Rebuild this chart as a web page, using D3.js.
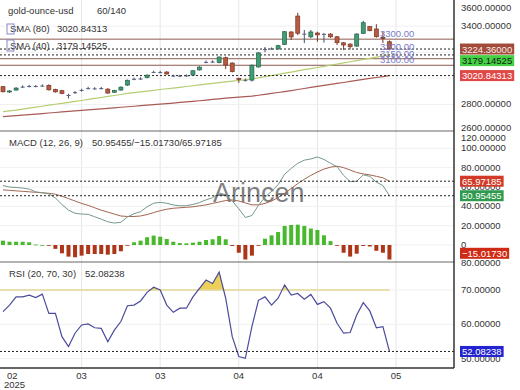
<!DOCTYPE html>
<html>
<head>
<meta charset="utf-8">
<script src="https://cdn.jsdelivr.net/npm/d3@7"></script>
<style>
  body { margin: 0; background: #fff; }
  svg { display: block; }
  text { font-family: "Liberation Sans", Arial, sans-serif; }
</style>
</head>
<body>
<svg id="chart" width="520" height="390"></svg>
<script>
// candles (daily, gold-ounce-usd)
const opens = [2936, 2895, 2910, 2933, 2938, 2941, 2940, 2946, 2914, 2905,
  2868, 2890, 2908, 2922, 2923, 2922, 2917, 2893, 2910, 2948,
  2993, 2995, 3005, 3046, 3048, 3048, 3018, 3020, 3019, 3025,
  3064, 3123, 3125, 3120, 3158, 3117, 2998, 2984, 2986, 3087,
  3220, 3225, 3225, 3260, 3355, 3477, 3342, 3318, 3347, 3338,
  3339, 3318, 3272, 3262, 3247, 3344, 3396, 3378, 3312, 3280]
const highs = [2940, 2908, 2932, 2946, 2950, 2949, 2954, 2954, 2920, 2912,
  2882, 2902, 2920, 2935, 2932, 2934, 2924, 2912, 2938, 2990,
  3005, 3008, 3030, 3058, 3057, 3055, 3028, 3027, 3030, 3062,
  3092, 3136, 3138, 3168, 3167, 3122, 3005, 2998, 3106, 3200,
  3240, 3236, 3256, 3362, 3360, 3502, 3370, 3370, 3357, 3347,
  3345, 3325, 3278, 3268, 3345, 3441, 3400, 3415, 3355, 3290]
const lows = [2892, 2888, 2905, 2926, 2930, 2931, 2934, 2906, 2890, 2878,
  2845, 2880, 2898, 2915, 2912, 2914, 2882, 2888, 2905, 2942,
  2985, 2988, 3000, 3040, 3038, 3028, 3010, 3010, 3012, 3020,
  3060, 3115, 3118, 3115, 3071, 3045, 2965, 2975, 2975, 3082,
  3200, 3218, 3220, 3255, 3293, 3331, 3270, 3308, 3280, 3273,
  3310, 3255, 3216, 3222, 3240, 3340, 3360, 3312, 3270, 3215]
const closes = [2897, 2903, 2925, 2936, 2941, 2939, 2944, 2912, 2896, 2884,
  2872, 2894, 2911, 2925, 2921, 2925, 2887, 2906, 2932, 2985,
  2996, 2998, 3024, 3049, 3046, 3033, 3021, 3018, 3022, 3058,
  3086, 3126, 3128, 3163, 3102, 3051, 2990, 2988, 3100, 3195,
  3224, 3228, 3250, 3357, 3317, 3345, 3338, 3355, 3333, 3341,
  3318, 3273, 3255, 3242, 3339, 3426, 3365, 3319, 3305, 3224.36]

const sma40 = [2745, 2750, 2756, 2764, 2771, 2779, 2786, 2794, 2801, 2808,
  2815, 2823, 2830, 2838, 2846, 2853, 2861, 2868, 2876, 2884,
  2890, 2896, 2902, 2908, 2914, 2920, 2925, 2931, 2937, 2943,
  2949, 2955, 2961, 2967, 2973, 2978, 2983, 2989, 2995, 3004,
  3013, 3021, 3030, 3039, 3048, 3057, 3066, 3074, 3083, 3092,
  3101, 3109, 3118, 3127, 3136, 3145, 3153, 3162, 3171, 3179.14525]
const sma80 = [2706, 2710, 2714, 2718, 2722, 2726, 2730, 2734, 2738, 2742,
  2746, 2750, 2754, 2758, 2762, 2766, 2770, 2774, 2778, 2782,
  2786, 2790, 2794, 2798, 2802, 2806, 2810, 2815, 2819, 2823,
  2828, 2833, 2838, 2843, 2848, 2852, 2856, 2860, 2864, 2870,
  2877, 2884, 2891, 2898, 2906, 2914, 2922, 2930, 2938, 2946,
  2953, 2961, 2968, 2976, 2984, 2992, 2999, 3006, 3013, 3020.84313]

const levelLines = [3300, 3150, 3100]
const levelLabels = [3300, 3200, 3150, 3100]

// MACD (12, 26, 9)
const macd = [61.5, 59.9, 59.4, 58.9, 57.8, 55, 54, 52.9, 48.5, 41.9,
  36, 32.8, 32, 31.7, 29.2, 26.7, 24, 22.7, 23.5, 29,
  32.3, 34.5, 39.5, 43.2, 44.1, 43.2, 41.4, 40.5, 40.7, 41.9,
  43.9, 46.7, 48.9, 53.8, 51.9, 45.5, 37.5, 28.5, 30.5, 41,
  49.5, 55.5, 62.4, 73.2, 79.2, 84.5, 87.7, 89, 91, 88.5,
  84.5, 81, 72, 65.5, 66, 72.5, 71, 65, 61.5, 50.95455]
const signal = [57, 56.5, 56, 55.5, 55, 54.5, 54, 53.5, 52.5, 50.5,
  48, 45.5, 43, 41, 38.5, 36, 34, 32, 30, 29.5,
  29.5, 30, 31.5, 33.5, 35.5, 37, 38, 38.5, 39, 39.5,
  40.5, 41.5, 43, 44.5, 46, 46.5, 45.5, 43.5, 41.5, 41.5,
  43, 45.5, 49, 53.5, 58.5, 63.5, 68, 72, 75.5, 78.5,
  80.5, 81.5, 80, 77.5, 75, 73.5, 72.5, 71, 69.5, 65.97185]
const hist = [4.5, 3.4, 3.4, 3.4, 2.8, 0.5, 0, -0.6, -4, -8.6,
  -12, -12.7, -11, -9.3, -9.3, -9.3, -10, -9.3, -6.5, -0.5,
  2.8, 4.5, 8, 9.7, 8.6, 6.2, 3.4, 2, 1.7, 2.4,
  3.4, 5.2, 5.9, 9.3, 5.9, -1, -8, -15, -11, -0.5,
  6.5, 10, 13.4, 19.7, 20.7, 21, 19.7, 17, 15.5, 10,
  4, -0.5, -8, -12, -9, -1, -1.5, -6, -8, -15.0173]

// RSI (20, 70, 30)
const rsi = [63.7, 65.6, 68, 68, 68.5, 67.8, 68.8, 63.2, 63.2, 56.4,
  53.5, 57.4, 59.8, 60.1, 59, 58.8, 54.9, 58.3, 60.8, 65.4,
  65.6, 66.8, 69.3, 70.8, 70, 65.6, 63.5, 64.7, 64.7, 68,
  70.5, 72.9, 71.9, 75.2, 67.6, 56.4, 50.6, 50.1, 59.3, 67,
  68, 65.6, 67.6, 71.5, 68.5, 69, 67.3, 68.7, 65.8, 66.6,
  64.7, 60.3, 57.4, 57.6, 62.7, 66.3, 63.9, 59, 59.3, 52.08238]

const xTicks = [0, 12, 24, 36, 48, 60]
const xTickLabels = ['02', '03', '03', '04', '04', '05']
const priceTicks = [2600, 2800, 3000, 3200, 3400, 3600]
const priceLabelTicks = [2600, 2800, 3400, 3600]
const macdTicks = [0, 20, 40, 60, 80, 100, 120]
const rsiTicks = [50, 60, 70, 80]

const svg = d3.select('#chart')
const fmt5 = d3.format('.5f')
const axisX = 454
const panels = { price: [0, 131], macd: [131, 262], rsi: [262, 368] }

const x = d3.scaleLinear().domain([0, 60]).range([3, 396])
const yPrice = d3.scaleLinear().domain([2600, 3600]).range([130.5, 0])
const yMacd = d3.scaleLinear().domain([0, 100]).range([245, 148.3])
const yRsi = d3.scaleLinear().domain([50, 70]).range([358.6, 290])
const idx = d3.range(closes.length)

// grid
svg.append('g')
  .selectAll('line')
  .data(xTicks.slice(1))
  .join('line')
  .attr('x1', (d) => x(d)).attr('x2', (d) => x(d))
  .attr('y1', 0).attr('y2', panels.rsi[1])
  .attr('stroke', '#e6e6e6')

const hGrid = (scale, values, panel) => {
  svg.append('g')
    .selectAll('line')
    .data(values.filter((v) => scale(v) > panel[0] + 1 && scale(v) < panel[1] - 1))
    .join('line')
    .attr('x1', 0).attr('x2', axisX)
    .attr('y1', (d) => scale(d)).attr('y2', (d) => scale(d))
    .attr('stroke', '#f0f0f0')
}
hGrid(yPrice, priceTicks, panels.price)
hGrid(yMacd, macdTicks, panels.macd)
hGrid(yRsi, rsiTicks, panels.rsi)

// watermark
svg.append('text')
  .attr('x', 213).attr('y', 202)
  .style('font-size', '27px')
  .attr('fill', '#555')
  .attr('opacity', 0.75)
  .text('Arincen')

// ---- price panel ----
svg.append('g')
  .selectAll('line')
  .data(levelLines)
  .join('line')
  .attr('x1', 0).attr('x2', axisX)
  .attr('y1', (d) => yPrice(d)).attr('y2', (d) => yPrice(d))
  .attr('stroke', '#8a5a50')

const line = (scale, values) => d3.line().x((i) => x(i)).y((i) => scale(values[i]))

svg.append('path')
  .attr('d', line(yPrice, sma80)(idx))
  .attr('fill', 'none').attr('stroke', '#a85a55').attr('stroke-width', 1.2)
svg.append('path')
  .attr('d', line(yPrice, sma40)(idx))
  .attr('fill', 'none').attr('stroke', '#b5cd72').attr('stroke-width', 1.2)

const dotted = (y) => {
  svg.append('line')
    .attr('x1', 0).attr('x2', axisX)
    .attr('y1', y).attr('y2', y)
    .attr('stroke', '#222')
    .attr('stroke-dasharray', '2,2')
}
const last = closes.length - 1
dotted(yPrice(closes[last]))
dotted(yPrice(sma40[last]))
dotted(yPrice(sma80[last]))

const candles = svg.append('g')
idx.forEach((i) => {
  const o = opens[i]
  const c = closes[i]
  const doji = Math.abs(o - c) < 5
  const fill = doji ? '#5a5f80' : (c > o ? '#3f9d74' : '#b85a40')
  const stroke = doji ? '#4a4f70' : (c > o ? '#2b5e4a' : '#7a3526')
  const cx = x(i)
  candles.append('line')
    .attr('x1', cx).attr('x2', cx)
    .attr('y1', yPrice(highs[i])).attr('y2', yPrice(lows[i]))
    .attr('stroke', stroke)
  const top = yPrice(Math.max(o, c))
  const h = Math.max(1, yPrice(Math.min(o, c)) - top)
  candles.append('rect')
    .attr('x', cx - 2).attr('y', top)
    .attr('width', 4).attr('height', h)
    .attr('fill', fill)
    .attr('stroke', doji ? 'none' : stroke)
    .attr('stroke-width', 0.7)
})

svg.append('g')
  .selectAll('text')
  .data(levelLabels)
  .join('text')
  .attr('x', 380)
  .attr('y', (d) => yPrice(d) - 2)
  .attr('fill', '#7b7bc8')
  .style('font-size', '9.5px')
  .text((d) => d.toFixed(2))

// ---- MACD panel ----
svg.append('g')
  .selectAll('rect')
  .data(idx)
  .join('rect')
  .attr('x', (i) => x(i) - 2)
  .attr('width', 4)
  .attr('y', (i) => Math.min(yMacd(0), yMacd(hist[i])))
  .attr('height', (i) => Math.max(0.8, Math.abs(yMacd(hist[i]) - yMacd(0))))
  .attr('fill', (i) => (hist[i] >= 0 ? '#48b82c' : '#ad3519'))

svg.append('path')
  .attr('d', line(yMacd, signal)(idx))
  .attr('fill', 'none').attr('stroke', '#a3654f').attr('stroke-width', 1)
svg.append('path')
  .attr('d', line(yMacd, macd)(idx))
  .attr('fill', 'none').attr('stroke', '#76978a').attr('stroke-width', 1)
dotted(yMacd(signal[last]))
dotted(yMacd(macd[last]))

// ---- RSI panel ----
svg.append('clipPath').attr('id', 'over70')
  .append('rect')
  .attr('x', 0).attr('y', panels.rsi[0])
  .attr('width', axisX).attr('height', yRsi(70) - panels.rsi[0])
svg.append('path')
  .attr('clip-path', 'url(#over70)')
  .attr('d', d3.area().x((i) => x(i)).y0(yRsi(70)).y1((i) => yRsi(rsi[i]))(idx))
  .attr('fill', '#ecd058')
svg.append('line')
  .attr('x1', 0).attr('x2', x(last))
  .attr('y1', yRsi(70)).attr('y2', yRsi(70))
  .attr('stroke', '#e2d896').attr('stroke-width', 1.5)
svg.append('path')
  .attr('d', line(yRsi, rsi)(idx))
  .attr('fill', 'none').attr('stroke', '#4b4b9d').attr('stroke-width', 1.2)
dotted(yRsi(rsi[last]))

// panel borders
;[panels.price[1], panels.macd[1]].forEach((y) => {
  svg.append('line').attr('x1', 0).attr('x2', axisX)
    .attr('y1', y).attr('y2', y).attr('stroke', '#666')
})
svg.append('line').attr('x1', 0).attr('x2', axisX)
  .attr('y1', panels.rsi[1]).attr('y2', panels.rsi[1]).attr('stroke', '#333').attr('stroke-width', 1.5)
svg.append('line').attr('x1', axisX).attr('x2', axisX)
  .attr('y1', 0).attr('y2', panels.rsi[1]).attr('stroke', '#333').attr('stroke-width', 1.5)

// right axes
const drawAxis = (scale, values, format, minY, maxY) => {
  const g = svg.append('g')
    .attr('transform', `translate(${axisX},0)`)
    .call(d3.axisRight(scale).tickValues(values).tickFormat(format).tickSize(0).tickPadding(7))
  g.select('.domain').remove()
  g.selectAll('.tick')
    .attr('transform', (d) => `translate(0,${Math.max(minY, Math.min(maxY, scale(d)))})`)
  g.selectAll('text')
    .attr('fill', '#333')
    .style('font-size', '9.5px')
    .style('font-family', '"Liberation Sans", Arial, sans-serif')
}
drawAxis(yPrice, priceLabelTicks, fmt5, 8, 127.5)
drawAxis(yMacd, macdTicks, (d) => (d === 0 ? '0' : fmt5(d)), 138, 258)
drawAxis(yRsi, rsiTicks, fmt5, 262.5, 364)

// value tags
const drawTags = (tags, minY, maxY) => {
  let prev = -Infinity
  tags.sort((a, b) => a.y - b.y).forEach((t) => {
    let y = Math.min(maxY, Math.max(t.y, prev + 11.6))
    prev = y
    const g = svg.append('g')
    const txt = g.append('text')
      .attr('x', 462).attr('y', y + 3.5)
      .attr('fill', t.fg)
      .style('font-size', '9.5px')
      .text(fmt5(t.v))
    const w = txt.node().getComputedTextLength()
    g.insert('rect', 'text')
      .attr('x', 460).attr('y', y - 5.5)
      .attr('width', w + 4).attr('height', 11)
      .attr('fill', t.bg)
  })
}
drawTags([
  { v: closes[last], y: yPrice(closes[last]), bg: '#a24b3b', fg: '#fbeaea' },
  { v: sma40[last], y: yPrice(sma40[last]), bg: '#46d046', fg: '#112211' },
  { v: sma80[last], y: yPrice(sma80[last]), bg: '#e04848', fg: '#fff' }
], 0, 125)
drawTags([
  { v: signal[last], y: yMacd(signal[last]), bg: '#d23a28', fg: '#fff' },
  { v: macd[last], y: yMacd(macd[last]), bg: '#2f9a4e', fg: '#fff' },
  { v: hist[last], y: yMacd(hist[last]), bg: '#d02a14', fg: '#fff' }
], 131, 253.3)
drawTags([
  { v: rsi[last], y: yRsi(rsi[last]), bg: '#2323d0', fg: '#fff' }
], 262, 362)

// x axis labels
svg.append('g')
  .selectAll('text')
  .data(xTicks)
  .join('text')
  .attr('x', (d, i) => (i === 0 ? 7 : x(d)))
  .attr('y', 379)
  .attr('text-anchor', (d, i) => (i === 0 ? 'start' : 'middle'))
  .attr('fill', '#333')
  .style('font-size', '9.5px')
  .text((d, i) => xTickLabels[i])
svg.append('text')
  .attr('x', 4).attr('y', 387.5)
  .attr('fill', '#333')
  .style('font-size', '9.5px')
  .text('2025')

// headers
const header = (xPos, y, txt) => {
  svg.append('text').attr('x', xPos).attr('y', y)
    .attr('fill', '#333').style('font-size', '9.5px').text(txt)
}
header(8, 14, 'gold-ounce-usd')
header(97, 14, '60/140')
header(10, 32, 'SMA (80)')
header(57, 32, fmt5(sma80[last]))
header(10, 48.5, 'SMA (40)')
header(57, 48.5, fmt5(sma40[last]))
header(9, 146, 'MACD (12, 26, 9)')
header(92, 146, `${fmt5(macd[last])}/${fmt5(hist[last])}/${fmt5(signal[last])}`)
header(9, 277, 'RSI (20, 70, 30)')
header(85, 277, fmt5(rsi[last]))

svg.append('rect').attr('x', 7).attr('y', 24).attr('width', 7).attr('height', 10)
  .attr('fill', 'none').attr('stroke', '#8888cc')
svg.append('rect').attr('x', 7).attr('y', 40).attr('width', 7).attr('height', 11)
  .attr('fill', 'none').attr('stroke', '#8888cc')
</script>
</body>
</html>
